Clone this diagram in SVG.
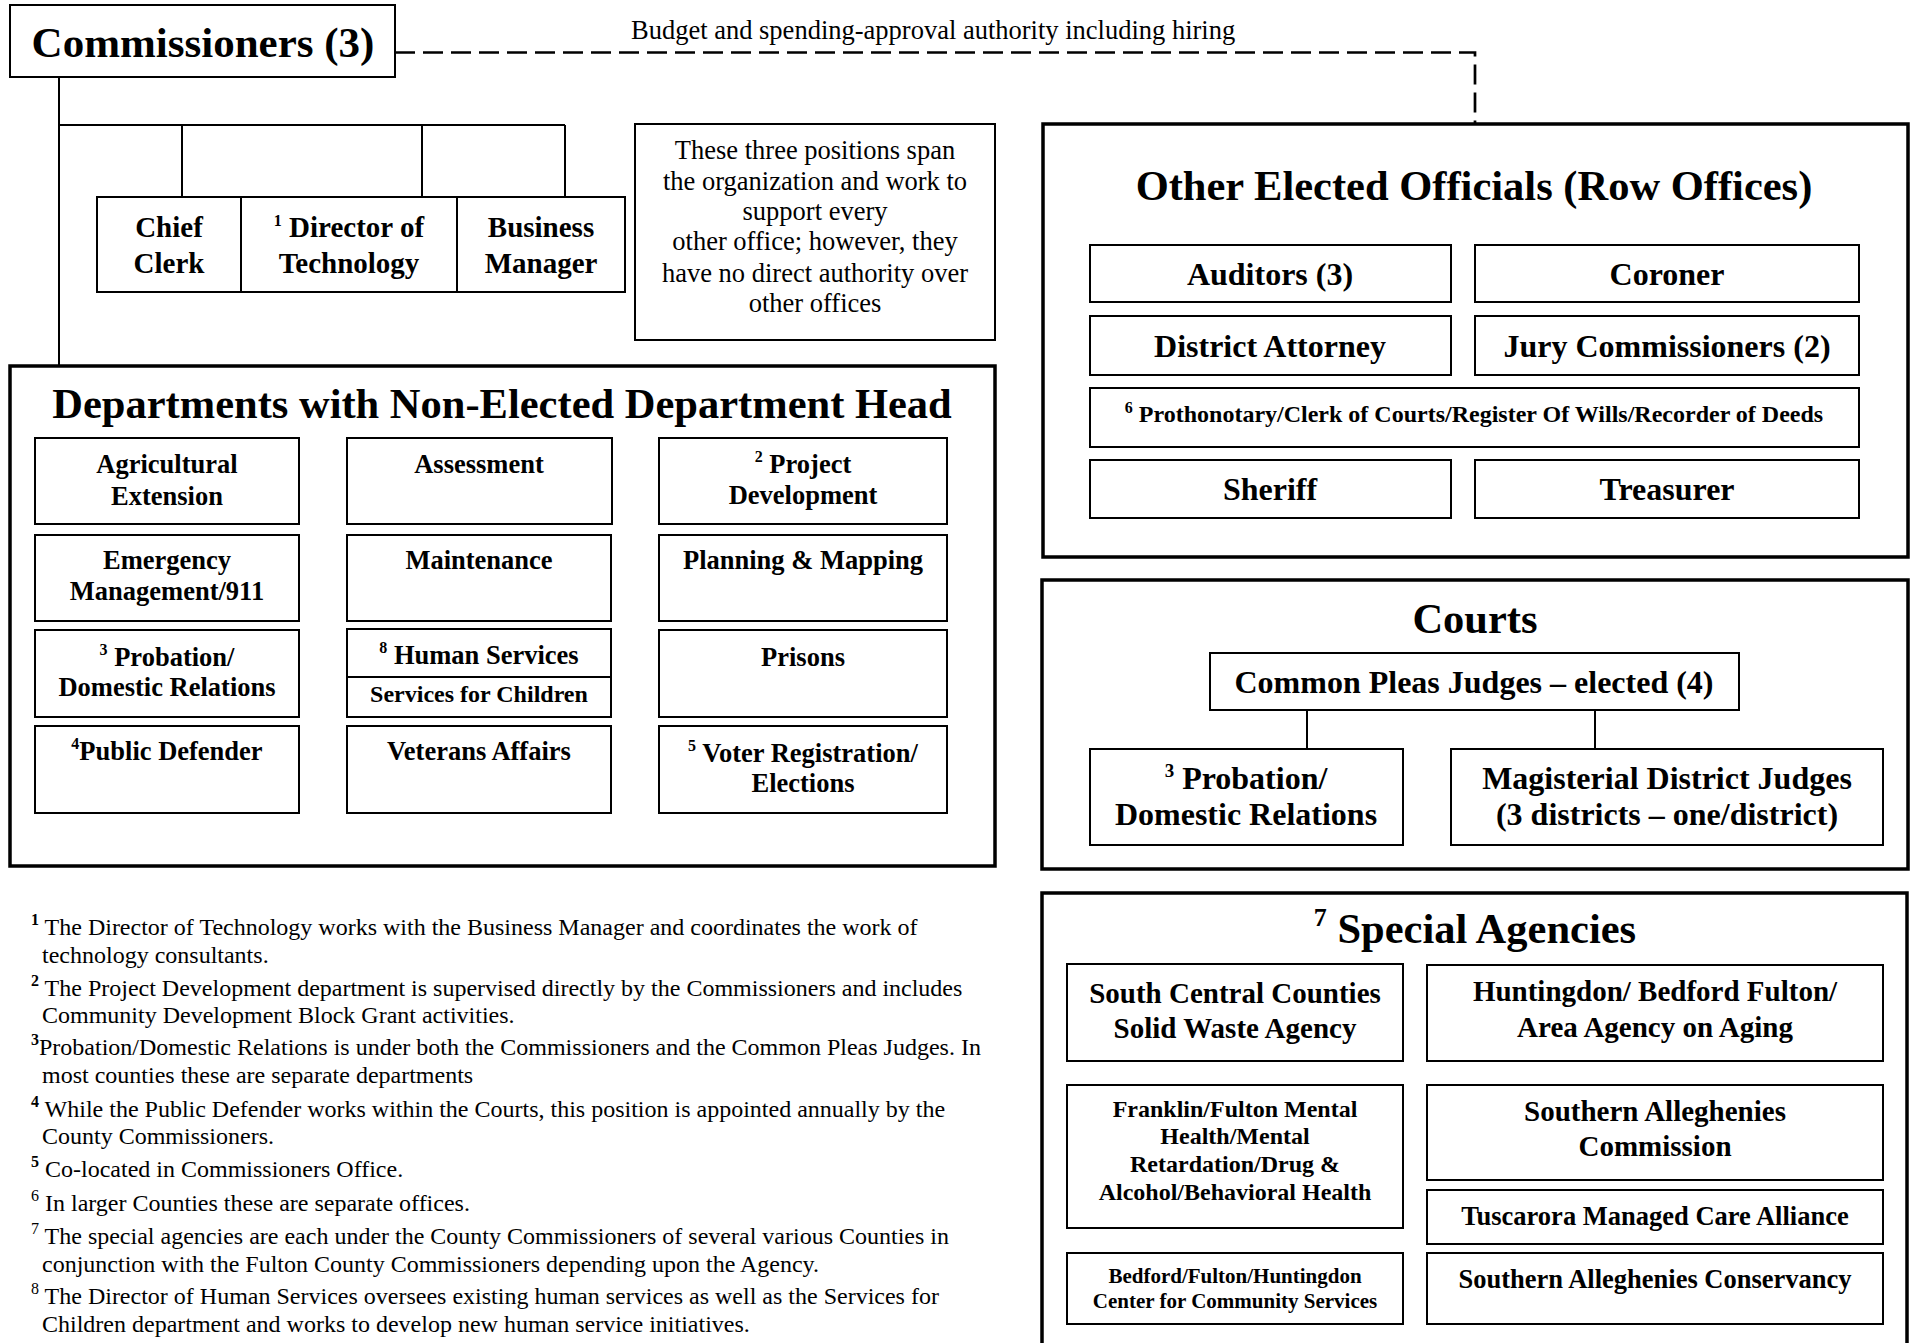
<svg xmlns="http://www.w3.org/2000/svg" width="1911" height="1343" viewBox="0 0 1911 1343">
<style>
text{font-family:"Liberation Serif","Times New Roman",serif;fill:#000}
.b{font-weight:bold}
.c{text-anchor:middle}
.box{fill:#fff;stroke:#000;stroke-width:2}
.grp{fill:none;stroke:#000;stroke-width:3.5}
.ln{fill:none;stroke:#000;stroke-width:2}
.dash{fill:none;stroke:#000;stroke-width:2.7;stroke-dasharray:20 8}
.t29{font-size:29px}
.t265{font-size:26.5px}
.t24{font-size:24px}
.t32{font-size:32px}
.ttl{font-size:42.5px}
.fn{font-size:24px}
.sup{font-size:16px}
</style>
<rect width="1911" height="1343" fill="#fff"/>

<g id="connectors">
<path class="ln" d="M59 77V366M59 125H565M182 125V197M422 125V197M565 125V197"/>
<path class="dash" d="M395 52.5H1475V124"/>
<path class="ln" d="M1307 710V749M1595 710V749"/>
<text x="631" y="39" style="font-size:26.5px">Budget and spending-approval authority including hiring</text>
</g>

<g id="commissioners">
<rect class="box" x="10" y="5" width="385" height="72"/>
<text class="b c" x="203" y="57" style="font-size:43px">Commissioners (3)</text>
</g>

<g id="chief-clerk">
<rect class="box" x="97" y="197" width="144" height="95"/>
<text class="b c t29" x="169" y="237">Chief</text>
<text class="b c t29" x="169" y="273">Clerk</text>
</g>
<g id="director-tech">
<rect class="box" x="241" y="197" width="216" height="95"/>
<text class="b c t29" x="349" y="237"><tspan class="sup" dy="-11">1</tspan><tspan dy="11"> Director of</tspan></text>
<text class="b c t29" x="349" y="273">Technology</text>
</g>
<g id="business-manager">
<rect class="box" x="457" y="197" width="168" height="95"/>
<text class="b c t29" x="541" y="237">Business</text>
<text class="b c t29" x="541" y="273">Manager</text>
</g>

<g id="note">
<rect class="box" x="635" y="124" width="360" height="216"/>
<text class="c t265" x="815" y="159">These three positions span</text>
<text class="c t265" x="815" y="190">the organization and work to</text>
<text class="c t265" x="815" y="220">support every</text>
<text class="c t265" x="815" y="250">other office; however, they</text>
<text class="c t265" x="815" y="282">have no direct authority over</text>
<text class="c t265" x="815" y="312">other offices</text>
</g>

<g id="departments">
<rect class="grp" x="10" y="366" width="985" height="500"/>
<text class="b c ttl" x="502" y="418">Departments with Non-Elected Department Head</text>
</g>
<g id="agricultural">
<rect class="box" x="35" y="438" width="264" height="86"/>
<text class="b c t265" x="167" y="473">Agricultural</text>
<text class="b c t265" x="167" y="505">Extension</text>
</g>
<g id="assessment">
<rect class="box" x="347" y="438" width="265" height="86"/>
<text class="b c t265" x="479" y="473">Assessment</text>
</g>
<g id="project-development">
<rect class="box" x="659" y="438" width="288" height="86"/>
<text class="b c t265" x="803" y="473"><tspan class="sup" dy="-11">2</tspan><tspan dy="11"> Project</tspan></text>
<text class="b c t265" x="803" y="504">Development</text>
</g>
<g id="emergency">
<rect class="box" x="35" y="535" width="264" height="86"/>
<text class="b c t265" x="167" y="569">Emergency</text>
<text class="b c t265" x="167" y="600">Management/911</text>
</g>
<g id="maintenance">
<rect class="box" x="347" y="535" width="264" height="86"/>
<text class="b c t265" x="479" y="569">Maintenance</text>
</g>
<g id="planning">
<rect class="box" x="659" y="535" width="288" height="86"/>
<text class="b c t265" x="803" y="569">Planning &amp; Mapping</text>
</g>
<g id="probation-dept">
<rect class="box" x="35" y="630" width="264" height="87"/>
<text class="b c t265" x="167" y="666"><tspan class="sup" dy="-11">3</tspan><tspan dy="11"> Probation/</tspan></text>
<text class="b c t265" x="167" y="696">Domestic Relations</text>
</g>
<g id="human-services">
<rect class="box" x="347" y="629" width="264" height="88"/>
<path class="ln" d="M347 677H611"/>
<text class="b c t265" x="479" y="664"><tspan class="sup" dy="-11">8</tspan><tspan dy="11"> Human Services</tspan></text>
<text class="b c t24" x="479" y="702">Services for Children</text>
</g>
<g id="prisons">
<rect class="box" x="659" y="630" width="288" height="87"/>
<text class="b c t265" x="803" y="666">Prisons</text>
</g>
<g id="public-defender">
<rect class="box" x="35" y="726" width="264" height="87"/>
<text class="b c t265" x="167" y="760"><tspan class="sup" dy="-11">4</tspan><tspan dy="11">Public Defender</tspan></text>
</g>
<g id="veterans">
<rect class="box" x="347" y="726" width="264" height="87"/>
<text class="b c t265" x="479" y="760">Veterans Affairs</text>
</g>
<g id="voter">
<rect class="box" x="659" y="726" width="288" height="87"/>
<text class="b c t265" x="803" y="762"><tspan class="sup" dy="-11">5</tspan><tspan dy="11"> Voter Registration/</tspan></text>
<text class="b c t265" x="803" y="792">Elections</text>
</g>

<g id="row-offices">
<rect class="grp" x="1043" y="124" width="865" height="433"/>
<text class="b c ttl" x="1474" y="200">Other Elected Officials (Row Offices)</text>
</g>
<g id="auditors">
<rect class="box" x="1090" y="245" width="361" height="57"/>
<text class="b c t32" x="1270" y="285">Auditors (3)</text>
</g>
<g id="coroner">
<rect class="box" x="1475" y="245" width="384" height="57"/>
<text class="b c t32" x="1667" y="285">Coroner</text>
</g>
<g id="district-attorney">
<rect class="box" x="1090" y="316" width="361" height="59"/>
<text class="b c t32" x="1270" y="357">District Attorney</text>
</g>
<g id="jury">
<rect class="box" x="1475" y="316" width="384" height="59"/>
<text class="b c t32" x="1667" y="357">Jury Commissioners (2)</text>
</g>
<g id="prothonotary">
<rect class="box" x="1090" y="388" width="769" height="59"/>
<text class="b c t24" x="1474" y="422"><tspan class="sup" dy="-9">6</tspan><tspan dy="9"> Prothonotary/Clerk of Courts/Register Of Wills/Recorder of Deeds</tspan></text>
</g>
<g id="sheriff">
<rect class="box" x="1090" y="460" width="361" height="58"/>
<text class="b c t32" x="1270" y="500">Sheriff</text>
</g>
<g id="treasurer">
<rect class="box" x="1475" y="460" width="384" height="58"/>
<text class="b c t32" x="1667" y="500">Treasurer</text>
</g>

<g id="courts">
<rect class="grp" x="1042" y="580" width="866" height="289"/>
<text class="b c ttl" x="1475" y="633">Courts</text>
</g>
<g id="common-pleas">
<rect class="box" x="1210" y="653" width="529" height="57"/>
<text class="b c t32" x="1474" y="693">Common Pleas Judges – elected (4)</text>
</g>
<g id="probation-courts">
<rect class="box" x="1090" y="749" width="313" height="96"/>
<text class="b c t32" x="1246" y="789"><tspan class="sup" style="font-size:19px" dy="-12">3</tspan><tspan dy="12"> Probation/</tspan></text>
<text class="b c t32" x="1246" y="825">Domestic Relations</text>
</g>
<g id="magisterial">
<rect class="box" x="1451" y="749" width="432" height="96"/>
<text class="b c t32" x="1667" y="789">Magisterial District Judges</text>
<text class="b c t32" x="1667" y="825">(3 districts – one/district)</text>
</g>

<g id="special-agencies">
<rect class="grp" x="1042" y="893" width="865" height="470"/>
<text class="b c ttl" x="1475" y="943"><tspan style="font-size:26px" dy="-17">7</tspan><tspan dy="17"> Special Agencies</tspan></text>
</g>
<g id="south-central">
<rect class="box" x="1067" y="964" width="336" height="97"/>
<text class="b c t29" x="1235" y="1003">South Central Counties</text>
<text class="b c t29" x="1235" y="1038">Solid Waste Agency</text>
</g>
<g id="huntingdon-aging">
<rect class="box" x="1427" y="965" width="456" height="96"/>
<text class="b c t29" x="1655" y="1001">Huntingdon/ Bedford Fulton/</text>
<text class="b c t29" x="1655" y="1037">Area Agency on Aging</text>
</g>
<g id="franklin-fulton">
<rect class="box" x="1067" y="1085" width="336" height="143"/>
<text class="b c t24" x="1235" y="1117">Franklin/Fulton Mental</text>
<text class="b c t24" x="1235" y="1144">Health/Mental</text>
<text class="b c t24" x="1235" y="1172">Retardation/Drug &amp;</text>
<text class="b c t24" x="1235" y="1200">Alcohol/Behavioral Health</text>
</g>
<g id="sa-commission">
<rect class="box" x="1427" y="1085" width="456" height="95"/>
<text class="b c t29" x="1655" y="1121">Southern Alleghenies</text>
<text class="b c t29" x="1655" y="1156">Commission</text>
</g>
<g id="tuscarora">
<rect class="box" x="1427" y="1190" width="456" height="54"/>
<text class="b c t265" x="1655" y="1225">Tuscarora Managed Care Alliance</text>
</g>
<g id="bedford-center">
<rect class="box" x="1067" y="1253" width="336" height="71"/>
<text class="b c" x="1235" y="1283" style="font-size:21px">Bedford/Fulton/Huntingdon</text>
<text class="b c" x="1235" y="1308" style="font-size:21px">Center for Community Services</text>
</g>
<g id="sa-conservancy">
<rect class="box" x="1427" y="1253" width="456" height="71"/>
<text class="b c t265" x="1655" y="1288">Southern Alleghenies Conservancy</text>
</g>

<g id="footnotes">
<text class="fn" x="31" y="935"><tspan class="sup b" dy="-10">1</tspan><tspan dy="10"> The Director of Technology works with the Business Manager and coordinates the work of</tspan></text>
<text class="fn" x="42" y="963">technology consultants.</text>
<text class="fn" x="31" y="996"><tspan class="sup b" dy="-10">2</tspan><tspan dy="10"> The Project Development department is supervised directly by the Commissioners and includes</tspan></text>
<text class="fn" x="42" y="1023">Community Development Block Grant activities.</text>
<text class="fn" x="31" y="1055"><tspan class="sup b" dy="-10">3</tspan><tspan dy="10">Probation/Domestic Relations is under both the Commissioners and the Common Pleas Judges.  In</tspan></text>
<text class="fn" x="42" y="1083">most counties these are separate departments</text>
<text class="fn" x="31" y="1117"><tspan class="sup b" dy="-10">4</tspan><tspan dy="10"> While the Public Defender works within the Courts, this position is appointed annually by the</tspan></text>
<text class="fn" x="42" y="1144">County Commissioners.</text>
<text class="fn" x="31" y="1177"><tspan class="sup b" dy="-10">5</tspan><tspan dy="10"> Co-located in Commissioners Office.</tspan></text>
<text class="fn" x="31" y="1211"><tspan class="sup" dy="-10">6</tspan><tspan dy="10"> In larger Counties these are separate offices.</tspan></text>
<text class="fn" x="31" y="1244"><tspan class="sup" dy="-10">7</tspan><tspan dy="10"> The special agencies are each under the County Commissioners of several various Counties in</tspan></text>
<text class="fn" x="42" y="1272">conjunction with the Fulton County Commissioners depending upon the Agency.</text>
<text class="fn" x="31" y="1304"><tspan class="sup" dy="-10">8</tspan><tspan dy="10"> The Director of Human Services oversees existing human services as well as the Services for</tspan></text>
<text class="fn" x="42" y="1332">Children department and works to develop new human service initiatives.</text>
</g>
</svg>
